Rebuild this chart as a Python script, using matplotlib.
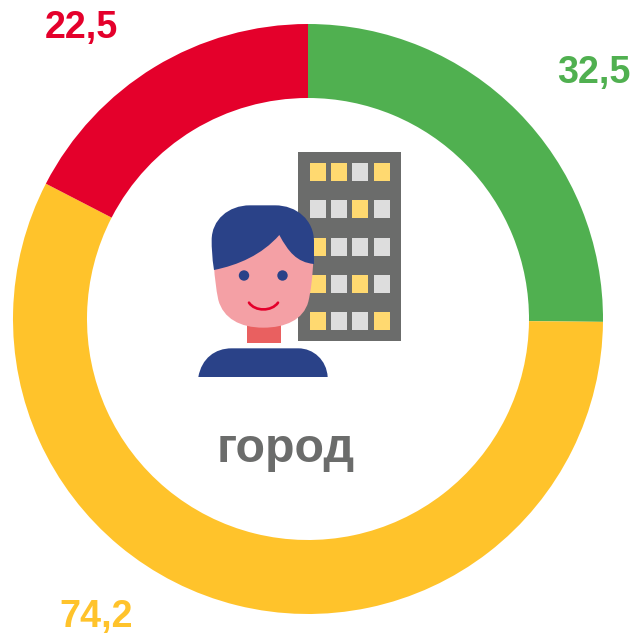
import matplotlib
matplotlib.use('Agg')
import matplotlib.pyplot as plt
from matplotlib.path import Path
from matplotlib.patches import PathPatch, Rectangle, Circle

plt.rcParams['font.family'] = ['Liberation Sans', 'DejaVu Sans']

labels = ['32,5', '74,2', '22,5']
values = [32.5, 74.2, 22.5]
colors = ['#50B050', '#FFC32B', '#E4002B']
center_label = 'город'

W, H = 636, 634
GREY = '#6B6C6B'
NAVY = '#2A4288'
PINK = '#F4A0A5'
WIN_ON = '#FFD970'
WIN_OFF = '#DDDDDD'

window_rows = ['YYGY', 'GGYG', 'YGGG', 'YGYG', 'YGGY']
window_x = [310, 331, 352, 374]
window_y = [163, 200, 238, 275, 312]

fig = plt.figure(figsize=(W / 100, H / 100), dpi=100)

# donut, axes box set in pixels
cx, cy, r = 308, 319, 295
ax_pie = fig.add_axes([(cx - r) / W, 1 - (cy + r) / H, 2 * r / W, 2 * r / H])
ax_pie.pie(values, colors=colors, startangle=90, counterclock=False, radius=1,
           wedgeprops={'width': 74 / 295, 'linewidth': 0})
ax_pie.set_xlim(-1, 1)
ax_pie.set_ylim(-1, 1)

# overlay in pixel coords for the icon and the text
ax = fig.add_axes([0, 0, 1, 1])
ax.set_xlim(0, W)
ax.set_ylim(H, 0)
ax.axis('off')


def z(px, py):
    return (190 + px / 3, 145 + py / 3)


def shape(verts, codes, color, zorder):
    ax.add_patch(PathPatch(Path([z(*v) for v in verts], codes), fc=color, ec='none', zorder=zorder))


M, L, C, E = Path.MOVETO, Path.LINETO, Path.CURVE4, Path.CLOSEPOLY

ax.add_patch(Rectangle((298, 152), 103, 189, fc=GREY, ec='none', zorder=1))
for row, wy in zip(window_rows, window_y):
    for state, wx in zip(row, window_x):
        ax.add_patch(Rectangle((wx, wy), 16, 18, fc=WIN_ON if state == 'Y' else WIN_OFF, ec='none', zorder=2))

# neck
ax.add_patch(Rectangle((247, 322), 34, 21, fc='#E96060', ec='none', zorder=3))

# body
shape([(25, 696), (35, 640), (75, 610), (125, 610), (325, 610), (370, 610), (410, 645), (413, 696), (25, 696)],
      [M, C, C, C, L, C, C, C, E], NAVY, 3)

# face
shape([(120, 230), (320, 230), (370, 340), (368, 400), (362, 440), (355, 470),
       (340, 525), (285, 548), (220, 548), (150, 548), (100, 520), (85, 465),
       (78, 430), (74, 400), (72, 360), (72, 360)],
      [M, L, L, C, C, C, C, C, C, C, C, C, C, C, C, E], PINK, 4)

# hair
shape([(72, 375), (66, 335), (65, 310), (65, 285), (65, 225), (115, 181), (180, 181), (255, 181),
       (320, 181), (372, 225), (372, 290), (372, 357),
       (320, 352), (295, 320), (268, 270), (215, 330), (145, 360), (72, 375), (72, 375)],
      [M, C, C, C, C, C, C, L, C, C, C, L, C, C, C, C, C, C, E], NAVY, 5)

# eyes
for ex in (244, 282.5):
    ax.add_patch(Circle((ex, 275.5), 5.2, fc=NAVY, ec='none', zorder=6))

# smile
sx = [z(177, 473), z(195, 500), z(245, 500), z(264, 473)]
ax.add_patch(PathPatch(Path(sx, [M, C, C, C]), fc='none', ec='#E4002B', lw=1.9, capstyle='round', zorder=6))

ax.text(286, 449, center_label, color=GREY, fontsize=34.8, fontweight='bold', ha='center', va='center', zorder=6)

ax.text(593.5, 73, labels[0], color=colors[0], fontsize=27.2, fontweight='bold', ha='center', va='center', zorder=6)
ax.text(96, 617, labels[1], color=colors[1], fontsize=27.2, fontweight='bold', ha='center', va='center', zorder=6)
ax.text(81, 28, labels[2], color=colors[2], fontsize=27.2, fontweight='bold', ha='center', va='center', zorder=6)

fig.savefig('out.png', dpi=100)
